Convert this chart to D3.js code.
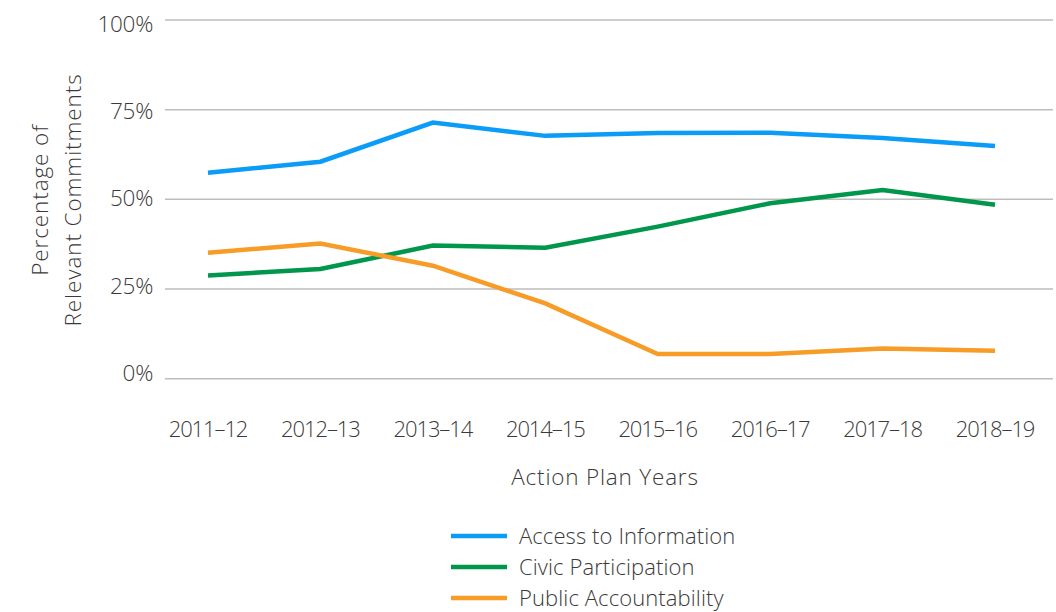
<!DOCTYPE html>
<meta charset="utf-8">
<html>
<head>
    <script src="https://cdn.jsdelivr.net/npm/d3@7"></script>
    <style>
        body { margin: 0; background: #fff; font-family: 'Open Sans', sans-serif; font-weight: 300; }
        .grid line { stroke: #bdbdbd; stroke-width: 1.5; }
        text { fill: #3a3a3a; }
    </style>
</head>
<body>
<svg width="1056" height="612"></svg>
<script>
    const years = ["2011\u201312", "2012\u201313", "2013\u201314", "2014\u201315",
                   "2015\u201316", "2016\u201317", "2017\u201318", "2018\u201319"];
    const accessInfo = [57.4, 60.5, 71.4, 67.7, 68.5, 68.6, 67.1, 64.9];
    const civicPart = [28.8, 30.6, 37.1, 36.5, 42.4, 48.9, 52.6, 48.5];
    const publicAcc = [35.1, 37.7, 31.5, 21.0, 6.9, 6.9, 8.4, 7.8];
    const yTicks = [0, 25, 50, 75, 100];
    const seriesNames = ["Access to Information", "Civic Participation", "Public Accountability"];
    const colors = ["#0a9cf7", "#00964b", "#f69c27"];

    const series = [accessInfo, civicPart, publicAcc].map((vals, i) => ({
        name: seriesNames[i], color: colors[i], values: vals
    }));

    const svg = d3.select("svg");
    const left = 165, right = 1053;

    const x = d3.scalePoint().domain(years).range([208, 995]);
    const y = d3.scaleLinear().domain([0, 100]).range([378.7, 20]);
    // tick labels sit slightly inside the gridline span
    const yLab = d3.scaleLinear().domain([0, 100]).range([373, 23.5]);

    // gridlines
    svg.append("g")
        .attr("class", "grid")
        .selectAll("line")
        .data(yTicks)
        .join("line")
        .attr("x1", left).attr("x2", right)
        .attr("y1", d => y(d)).attr("y2", d => y(d));

    // y tick labels
    svg.append("g")
        .selectAll("text")
        .data(yTicks)
        .join("text")
        .attr("x", 153)
        .attr("y", d => yLab(d))
        .attr("dy", "0.36em")
        .attr("text-anchor", "end")
        .attr("font-size", 22.5)
        .attr("letter-spacing", -0.3)
        .text(d => d + "%");

    // x tick labels
    svg.append("g")
        .selectAll("text")
        .data(years)
        .join("text")
        .attr("x", d => x(d))
        .attr("y", 437)
        .attr("text-anchor", "middle")
        .attr("font-size", 22)
        .attr("letter-spacing", -1.1)
        .text(d => d);

    svg.append("text")
        .attr("x", 605).attr("y", 485)
        .attr("text-anchor", "middle")
        .attr("font-size", 22.5)
        .attr("letter-spacing", 0.8)
        .text("Action Plan Years");

    const yl = svg.append("text")
        .attr("transform", "translate(0,200) rotate(-90)")
        .attr("text-anchor", "middle")
        .attr("font-size", 22.5)
        .attr("letter-spacing", 0.9);
    yl.append("tspan").attr("x", 0).attr("y", 48).text("Percentage of");
    yl.append("tspan").attr("x", 0).attr("y", 81).text("Relevant Commitments");

    const line = d3.line()
        .x((d, i) => x(years[i]))
        .y(d => y(d));

    svg.append("g")
        .selectAll("path")
        .data(series)
        .join("path")
        .attr("fill", "none")
        .attr("stroke", d => d.color)
        .attr("stroke-width", 4.5)
        .attr("d", d => line(d.values));

    // legend
    const lg = svg.append("g")
        .selectAll("g")
        .data(series)
        .join("g")
        .attr("transform", (d, i) => `translate(451,${536 + i * 31})`);
    lg.append("line")
        .attr("x1", 0).attr("x2", 56)
        .attr("stroke", d => d.color)
        .attr("stroke-width", 4.5);
    lg.append("text")
        .attr("x", 68)
        .attr("dy", "0.35em")
        .attr("font-size", 22)
        .attr("letter-spacing", 0.1)
        .text(d => d.name);
</script>
</body>
</html>
